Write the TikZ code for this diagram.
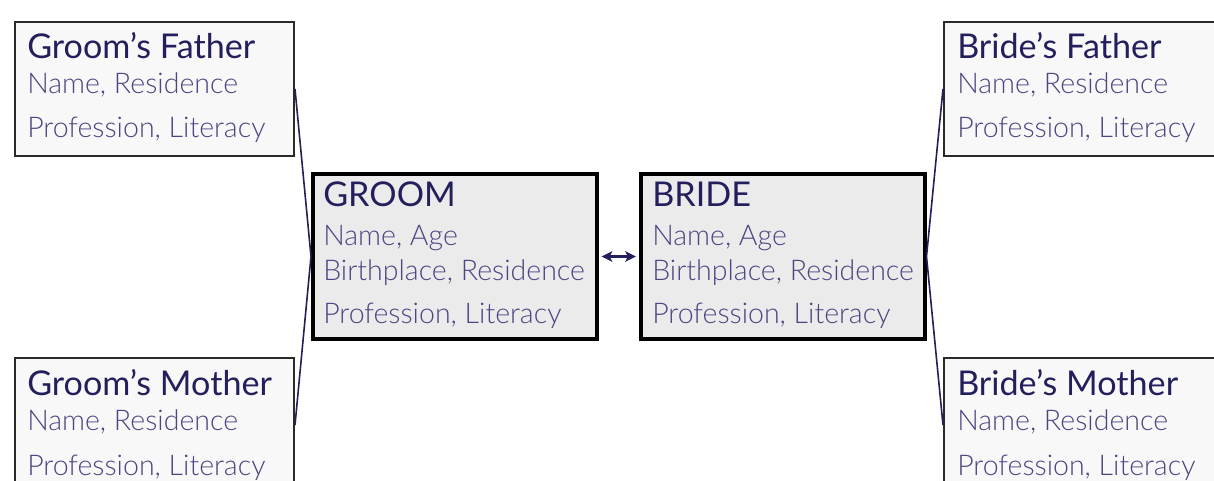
\documentclass[tikz,border=0pt]{standalone}
\usepackage{fontspec}
\setmainfont{Lato}
\newfontfamily\lightfont{Lato Light}
\usetikzlibrary{arrows.meta}
\definecolor{navy}{HTML}{231F5C}
\definecolor{subtxt}{HTML}{4B4682}
\definecolor{boxfill}{HTML}{F8F8F8}
\definecolor{mainfill}{HTML}{EBEBEB}
\definecolor{edge}{HTML}{2A2A2A}
\begin{document}
\begin{tikzpicture}[x=0.75pt,y=-0.75pt,
  parentbox/.style={draw=edge, fill=boxfill, line width=1.5pt, inner sep=0pt,
    minimum width=209.25pt, minimum height=100.5pt},
  mainbox/.style={draw=black, fill=mainfill, line width=3pt, inner sep=0pt,
    minimum width=213pt, minimum height=123.75pt},
  ttl/.style={anchor=base west, inner sep=0pt, text=navy, font=\fontsize{25.6pt}{30pt}\selectfont},
  sub/.style={anchor=base west, inner sep=0pt, text=subtxt, font=\fontsize{21.4pt}{25pt}\lightfont},
  link/.style={draw=navy, line width=1.2pt},
  pair/.style={draw=navy, line width=1.8pt, {Stealth[length=8pt,width=8pt,inset=2pt]}-{Stealth[length=8pt,width=8pt,inset=2pt]}}
]
\useasboundingbox (0,0) rectangle (1214,481);
\clip (0,0) rectangle (1214,481);

% boxes
\node[parentbox] (gf) at (154.5,89) {};
\node[parentbox] (gm) at (154.5,425) {};
\node[parentbox] (bf) at (1083.5,89) {};
\node[parentbox] (bm) at (1083.5,425) {};
\node[mainbox] (groom) at (455,256.5) {};
\node[mainbox] (bride) at (782.5,256.5) {};

% connectors
\draw[link] (gf.east) -- (groom.west);
\draw[link] (gm.east) -- (groom.west);
\draw[link] (bf.west) -- (bride.east);
\draw[link] (bm.west) -- (bride.east);
\draw[pair, shorten <=2pt, shorten >=2pt] (groom.east) -- (bride.west);

% texts
\node[ttl] (gft) at (27,59) {Groom’s Father};
\node[sub] (gf1) at (27,94) {Name, Residence};
\node[sub] (gf2) at (27,138) {Profession, Literacy};

\node[ttl] (gmt) at (27,395) {Groom’s Mother};
\node[sub] (gm1) at (27,430) {Name, Residence};
\node[sub] (gm2) at (27,475) {Profession, Literacy};

\node[ttl] (bft) at (957,59) {Bride’s Father};
\node[sub] (bf1) at (957,94) {Name, Residence};
\node[sub] (bf2) at (957,138) {Profession, Literacy};

\node[ttl] (bmt) at (957,395) {Bride’s Mother};
\node[sub] (bm1) at (957,430) {Name, Residence};
\node[sub] (bm2) at (957,475) {Profession, Literacy};

\node[ttl] (grt) at (323,207) {GROOM};
\node[sub] (gr1) at (323,245) {Name, Age};
\node[sub] (gr2) at (323,280) {Birthplace, Residence};
\node[sub] (gr3) at (323,323) {Profession, Literacy};

\node[ttl] (brt) at (652,207) {BRIDE};
\node[sub] (br1) at (652,245) {Name, Age};
\node[sub] (br2) at (652,280) {Birthplace, Residence};
\node[sub] (br3) at (652,323) {Profession, Literacy};
\end{tikzpicture}
\end{document}
